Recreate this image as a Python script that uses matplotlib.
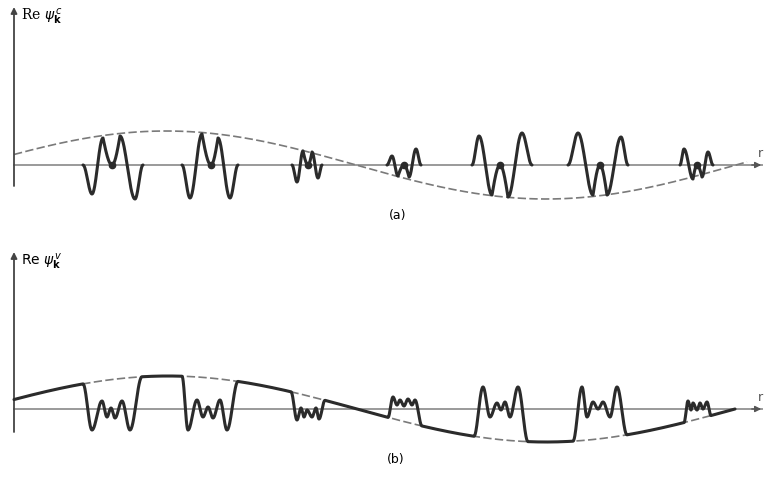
import numpy as np
import matplotlib
matplotlib.use("Agg")
import matplotlib.pyplot as plt

# r measured from the vertical axis, amplitude measured from the r axis
# plane-wave envelope (dashed), panel a / panel b
env_amp = [34, 33]
env_period = [760, 756]
env_crest = [152, 154]
env_end = [733, 721]

# panel (a): core part, zero between the ions
a_centers = [98, 197, 294, 390, 486, 586, 683]
a_offsets = [
    [-29, -20, -9, 0, 8, 23, 31],
    [-29, -21, -9, 0, 7, 19, 27],
    [-16, -11, -5, 0, 4, 10, 14],
    [-17, -12, -6, 0, 5, 12, 17],
    [-28, -21, -8, 0, 8, 22, 32],
    [-32, -22, -7, 0, 7, 21, 28],
    [-17, -13, -4, 0, 5, 11, 16],
]
a_values = [
    [0, -29, 27, 0, 29, -34, 0],
    [0, -33, 31, 0, 27, -33, 0],
    [0, -17, 14, 0, 13, -13, 0],
    [0, 9, -11, 0, -12, 16, 0],
    [0, 29, -30, 0, -32, 32, 0],
    [0, 32, -30, 0, -30, 28, 0],
    [0, 16, -14, 0, -12, 13, 0],
]

# panel (b): follows the envelope outside the cores (None = on the envelope)
b_centers = [97, 194, 293, 389, 486, 586, 683]
b_offsets = [
    [-28, -19, -9, -4, 0, 4, 11, 19, 31],
    [-26, -20, -11, -5, 0, 5, 12, 19, 30],
    [-16, -10, -6, -3, 0, 5, 9, 12, 18],
    [-15, -10, -6, -3, 1, 5, 9, 12, 19],
    [-26, -17, -10, -3, 1, 5, 10, 18, 28],
    [-27, -18, -13, -7, -2, 3, 10, 17, 27],
    [-13, -9, -6, -4, 0, 3, 6, 10, 14],
]
b_values = [
    [None, -21, 8, -8, 1, -9, 8, -21, None],
    [None, -21, 9, -8, 2, -9, 9, -21, None],
    [None, -11, 1, -8, -1, -8, 1, -10, None],
    [None, 12, 4, 9, 3, 10, 4, 9, None],
    [None, 22, -8, 6, -1, 7, -8, 22, None],
    [None, 22, -8, 7, 0, 7, -8, 22, None],
    [None, 8, -1, 6, -1, 6, 0, 7, None],
]

labels = [r"Re $\psi_{\mathbf{k}}^{\,c}$", r"Re $\psi_{\mathbf{k}}^{\,v}$"]
captions = ["(a)", "(b)"]

INK = "#2b2b2b"
AXIS = "#9a9a9a"
DASH = "#7a7a7a"


def envelope(x, k):
    return env_amp[k] * np.cos(2 * np.pi * (np.asarray(x) - env_crest[k]) / env_period[k])


def knot_curve(xs, ys, sharp=()):
    # smooth strokes between read-off extrema
    px, py = [], []
    t = np.linspace(0, 1, 30)
    for i in range(len(xs) - 1):
        if i + 1 in sharp:
            s = np.sin(np.pi * t / 2)
        elif i in sharp:
            s = 1 - np.cos(np.pi * t / 2)
        else:
            s = (1 - np.cos(np.pi * t)) / 2
        px.append(xs[i] + (xs[i + 1] - xs[i]) * t)
        py.append(ys[i] + (ys[i + 1] - ys[i]) * s)
    return np.concatenate(px), np.concatenate(py)


def draw_axes(ax, ybot, ytop):
    ax.plot([0, 748], [0, 0], color=AXIS, lw=1.4, zorder=1)
    ax.annotate("", xy=(750, 0), xytext=(735, 0),
                arrowprops=dict(arrowstyle="-|>", color="#555555", lw=1.0,
                                mutation_scale=9))
    ax.annotate("", xy=(0, ytop), xytext=(0, ybot),
                arrowprops=dict(arrowstyle="-|>", color="#444444", lw=1.3,
                                mutation_scale=9, shrinkA=0, shrinkB=0))
    ax.text(744, 5, "r", fontsize=9, color="#555555", ha="left", va="bottom")


fig = plt.figure(figsize=(7.66, 4.79), dpi=100)
ax_a = fig.add_axes([0, 239 / 479, 1, 240 / 479])
ax_b = fig.add_axes([0, 0, 1, 239 / 479])
ax_a.set_xlim(-14, 752); ax_a.set_ylim(-75, 165)
ax_b.set_xlim(-14, 752); ax_b.set_ylim(-70, 169)
for ax in (ax_a, ax_b):
    ax.axis("off")

# ---- (a) ----
draw_axes(ax_a, -21, 158)
xe = np.linspace(0, env_end[0], 400)
ax_a.plot(xe, envelope(xe, 0), color=DASH, lw=1.2, dashes=(5, 2), zorder=2)
for c, offs, vals in zip(a_centers, a_offsets, a_values):
    xs = [c + o for o in offs]
    kx, ky = knot_curve(xs, vals, sharp=(3,))
    ax_a.plot(kx, ky, color=INK, lw=2.2, zorder=3, solid_capstyle="round")
    ax_a.plot([c], [0], "o", color=INK, ms=4.5, zorder=4)
ax_a.text(7, 148, labels[0], fontsize=10, family="serif", ha="left", va="center")
ax_a.text(384, -50, captions[0], fontsize=9, ha="center", va="center")

# ---- (b) ----
draw_axes(ax_b, -23, 157)
xe = np.linspace(0, env_end[1], 400)
ax_b.plot(xe, envelope(xe, 1), color=DASH, lw=1.2, dashes=(5, 2), zorder=2)
bx, by = [], []
left = 0
for c, offs, vals in zip(b_centers, b_offsets, b_values):
    xs = [c + o for o in offs]
    ys = [float(envelope(x, 1)) if v is None else v for x, v in zip(xs, vals)]
    seg = np.linspace(left, xs[0], 60)
    bx.append(seg); by.append(envelope(seg, 1))
    kx, ky = knot_curve(xs, ys)
    bx.append(kx); by.append(ky)
    left = xs[-1]
seg = np.linspace(left, env_end[1], 40)
bx.append(seg); by.append(envelope(seg, 1))
ax_b.plot(np.concatenate(bx), np.concatenate(by), color=INK, lw=2.2, zorder=3,
          solid_capstyle="round", solid_joinstyle="round")
ax_b.text(7, 147, labels[1], fontsize=10, ha="left", va="center")
ax_b.text(382, -51, captions[1], fontsize=9, ha="center", va="center")

fig.savefig("out.png", dpi=100)
